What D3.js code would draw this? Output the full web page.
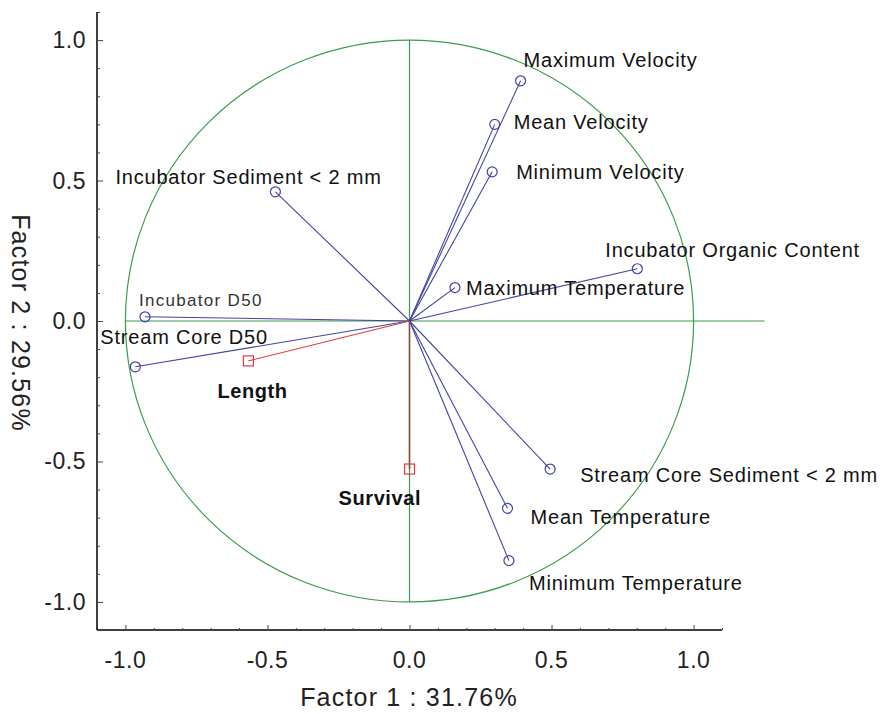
<!DOCTYPE html>
<html>
<head>
<meta charset="utf-8">
<script src="https://cdn.jsdelivr.net/npm/d3@7"></script>
<style>
  body { margin: 0; background: #fff; }
  svg { font-family: "Liberation Sans", Arial, sans-serif; }
</style>
</head>
<body>
<script>
// active variables (blue circles)
var varNames = ["Maximum Velocity", "Mean Velocity", "Minimum Velocity",
                "Incubator Organic Content", "Maximum Temperature",
                "Incubator Sediment < 2 mm", "Incubator D50", "Stream Core D50",
                "Stream Core Sediment < 2 mm", "Mean Temperature", "Minimum Temperature"];
var varF1 = [0.391, 0.300, 0.291, 0.802, 0.160, -0.472, -0.931, -0.965, 0.495, 0.345, 0.350];
var varF2 = [0.855, 0.700, 0.531, 0.186, 0.119, 0.460, 0.015, -0.163, -0.527, -0.667, -0.853];
// label offsets from point (px)
var varDx = [3, 19, 24, -32, 11, -160, -6, -35, 30, 23, 20];
var varDy = [-14, 5, 7, -12, 7, -8, -11, -23, 13, 16, 29];

// supplementary variables (red squares)
var supNames = ["Length", "Survival"];
var supF1 = [-0.567, 0.000];
var supF2 = [-0.142, -0.527];
var supDx = [-31, -71];
var supDy = [37, 36];

var xTicks = [-1.0, -0.5, 0.0, 0.5, 1.0];
var yTicks = [-1.0, -0.5, 0.0, 0.5, 1.0];

var width = 880, height = 714;

var x = d3.scaleLinear().domain([-1.1, 1.1]).range([97, 722]);
var y = d3.scaleLinear().domain([-1.1, 1.1]).range([630, 12]);

var svg = d3.select("body").append("svg")
    .attr("width", width)
    .attr("height", height);

var green = "#3f9a4e", blue = "#4343a3", red = "#e33a3a";

// unit circle
svg.append("ellipse")
    .attr("cx", x(0)).attr("cy", y(0))
    .attr("rx", x(1) - x(0)).attr("ry", y(0) - y(1))
    .attr("fill", "none").attr("stroke", green).attr("stroke-width", 1.2);

svg.append("line")
    .attr("x1", x(-1)).attr("x2", x(1.25))
    .attr("y1", y(0)).attr("y2", y(0))
    .attr("stroke", green).attr("stroke-width", 1.2);
svg.append("line")
    .attr("x1", x(0)).attr("x2", x(0))
    .attr("y1", y(1)).attr("y2", y(-1))
    .attr("stroke", green).attr("stroke-width", 1.2);

// axes
var xAxis = svg.append("g")
    .attr("transform", "translate(0," + y(-1.1) + ")")
    .call(d3.axisTop(x).tickValues(d3.range(-11, 12).map(function(d) { return d / 10; }))
        .tickSize(3).tickFormat(""));
xAxis.select(".domain").attr("d", "M" + x(-1.1) + ",0H" + x(1.1)).attr("stroke-width", 1.5);
xAxis.selectAll(".tick line")
    .attr("y2", function(d) { return Math.abs(d * 2 - Math.round(d * 2)) < 1e-6 ? -5 : -2; })
    .attr("stroke", "#444");

var yAxis = svg.append("g")
    .attr("transform", "translate(" + x(-1.1) + ",0)")
    .call(d3.axisRight(y).tickValues(d3.range(-11, 12).map(function(d) { return d / 10; }))
        .tickSize(3).tickFormat(""));
yAxis.select(".domain").attr("d", "M0," + y(1.1) + "V" + y(-1.1)).attr("stroke-width", 1.5);
yAxis.selectAll(".tick line")
    .attr("x2", function(d) { return Math.abs(d * 2 - Math.round(d * 2)) < 1e-6 ? 6 : 3; })
    .attr("stroke", "#444");

svg.selectAll(".xlab")
    .data(xTicks)
  .enter().append("text")
    .attr("x", function(d) { return x(d); })
    .attr("y", 668)
    .attr("text-anchor", "middle")
    .attr("font-size", 23)
    .attr("letter-spacing", 0.5)
    .attr("fill", "#222")
    .text(function(d) { return d3.format(".1f")(d).replace("−", "-"); });

svg.selectAll(".ylab")
    .data(yTicks)
  .enter().append("text")
    .attr("x", 86)
    .attr("y", function(d) { return y(d) + 8; })
    .attr("text-anchor", "end")
    .attr("font-size", 23)
    .attr("letter-spacing", 0.5)
    .attr("fill", "#222")
    .text(function(d) { return d3.format(".1f")(d).replace("−", "-"); });

svg.append("text")
    .attr("x", 409).attr("y", 706)
    .attr("text-anchor", "middle")
    .attr("font-size", 25)
    .attr("letter-spacing", 1.2)
    .attr("fill", "#222")
    .text("Factor 1 : 31.76%");

svg.append("text")
    .attr("transform", "translate(12,323) rotate(90)")
    .attr("text-anchor", "middle")
    .attr("font-size", 25)
    .attr("letter-spacing", 1.2)
    .attr("fill", "#222")
    .text("Factor 2 : 29.56%");

// vectors for active variables
var vars = varNames.map(function(n, i) {
  return {name: n, f1: varF1[i], f2: varF2[i], dx: varDx[i], dy: varDy[i]};
});
var sups = supNames.map(function(n, i) {
  return {name: n, f1: supF1[i], f2: supF2[i], dx: supDx[i], dy: supDy[i]};
});

svg.selectAll(".vline")
    .data(vars)
  .enter().append("line")
    .attr("x1", x(0)).attr("y1", y(0))
    .attr("x2", function(d) { return x(d.f1); })
    .attr("y2", function(d) { return y(d.f2); })
    .attr("stroke", blue).attr("stroke-width", 1.1);

// the vertical one sits on the green axis line and shows brownish
svg.selectAll(".sline")
    .data(sups)
  .enter().append("line")
    .attr("x1", x(0)).attr("y1", y(0))
    .attr("x2", function(d) { return x(d.f1); })
    .attr("y2", function(d) { return y(d.f2); })
    .attr("stroke", function(d) { return d.f1 === 0 ? "#8a4a2a" : red; })
    .attr("stroke-width", function(d) { return d.f1 === 0 ? 1.5 : 1.1; });

svg.selectAll(".vpt")
    .data(vars)
  .enter().append("circle")
    .attr("cx", function(d) { return x(d.f1); })
    .attr("cy", function(d) { return y(d.f2); })
    .attr("r", 5)
    .attr("fill", "none").attr("stroke", blue).attr("stroke-width", 1.2);

svg.selectAll(".spt")
    .data(sups)
  .enter().append("rect")
    .attr("x", function(d) { return x(d.f1) - 5; })
    .attr("y", function(d) { return y(d.f2) - 5; })
    .attr("width", 10).attr("height", 10)
    .attr("fill", "none").attr("stroke", red).attr("stroke-width", 1.2);

svg.selectAll(".vtext")
    .data(vars)
  .enter().append("text")
    .attr("x", function(d) { return x(d.f1) + d.dx; })
    .attr("y", function(d) { return y(d.f2) + d.dy; })
    .attr("font-size", function(d) { return d.name === "Incubator D50" ? 17 : 20; })
    .attr("letter-spacing", function(d) { return d.name === "Incubator D50" ? 1.3 : 0.8; })
    .attr("fill", function(d) { return d.name === "Incubator D50" ? "#333" : "#111"; })
    .text(function(d) { return d.name; });

svg.selectAll(".stext")
    .data(sups)
  .enter().append("text")
    .attr("x", function(d) { return x(d.f1) + d.dx; })
    .attr("y", function(d) { return y(d.f2) + d.dy; })
    .attr("font-size", 20)
    .attr("font-weight", "bold")
    .attr("letter-spacing", 0.6)
    .attr("fill", "#111")
    .text(function(d) { return d.name; });
</script>
</body>
</html>
